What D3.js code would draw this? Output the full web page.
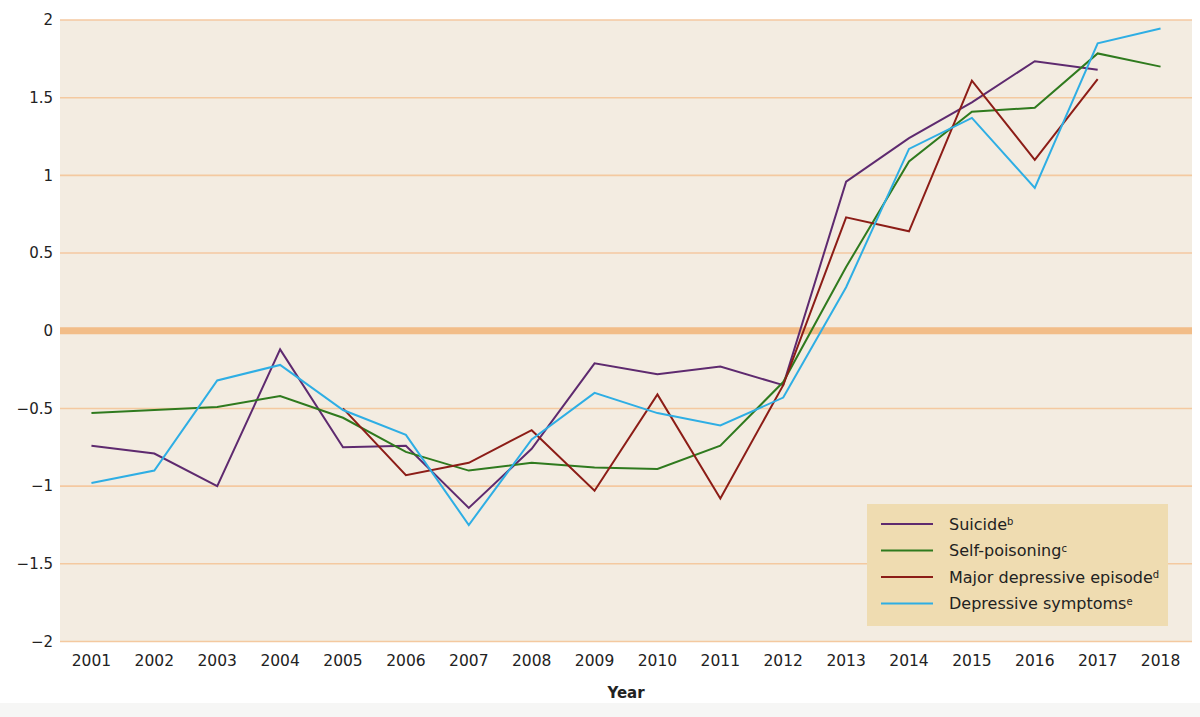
<!DOCTYPE html>
<html>
<head>
<meta charset="utf-8">
<script src="https://cdn.jsdelivr.net/npm/d3@7"></script>
<style>
  body { margin: 0; background: #fff; }
  text { font-family: "DejaVu Sans", "Lato", sans-serif; }
</style>
</head>
<body>
<svg width="1200" height="717"></svg>
<script>
var years = ["2001","2002","2003","2004","2005","2006","2007","2008","2009","2010","2011","2012","2013","2014","2015","2016","2017","2018"];
var yTicks = [-2, -1.5, -1, -0.5, 0, 0.5, 1, 1.5, 2];

// null = no data that year
var suicide = [-0.74, -0.79, -1.0, -0.12, -0.75, -0.74, -1.14, -0.76, -0.21, -0.28, -0.23, -0.35, 0.96, 1.24, 1.47, 1.735, 1.68, null];
var selfPoisoning = [-0.53, -0.51, -0.49, -0.42, -0.56, -0.78, -0.90, -0.85, -0.88, -0.89, -0.74, -0.33, 0.41, 1.09, 1.41, 1.435, 1.785, 1.70];
var majorDepressive = [null, null, null, null, -0.50, -0.93, -0.85, -0.64, -1.03, -0.41, -1.08, -0.35, 0.73, 0.64, 1.61, 1.10, 1.62, null];
var depressiveSymptoms = [-0.98, -0.90, -0.32, -0.22, -0.51, -0.67, -1.25, -0.70, -0.40, -0.53, -0.61, -0.43, 0.28, 1.17, 1.37, 0.92, 1.85, 1.945];

var seriesNames = ["Suicide", "Self-poisoning", "Major depressive episode", "Depressive symptoms"];
var seriesSup = ["b", "c", "d", "e"];
var seriesColors = ["#5e2a6f", "#2f7a1e", "#8c1d17", "#2eaee4"];
var seriesValues = [suicide, selfPoisoning, majorDepressive, depressiveSymptoms];

var svg = d3.select("svg"),
    margin = {top: 20, right: 8, bottom: 75, left: 60},
    width = +svg.attr("width") - margin.left - margin.right,
    height = +svg.attr("height") - margin.top - margin.bottom;

// light gray strip at the very bottom of the image
svg.append("rect").attr("x", 0).attr("y", 703).attr("width", 1200).attr("height", 14).attr("fill", "#f6f6f5");

var x = d3.scalePoint().domain(years).range([0, width]).padding(0.5),
    y = d3.scaleLinear().domain([-2, 2]).range([height - 0.5, 0]);

var g = svg.append("g")
    .attr("transform", "translate(" + margin.left + "," + margin.top + ")");

g.append("rect")
    .attr("width", width)
    .attr("height", height)
    .attr("fill", "#f3ece1");

// gridlines
g.selectAll(".grid")
  .data(yTicks)
  .enter().append("line")
    .attr("x1", 0).attr("x2", width)
    .attr("y1", function(d) { return y(d); })
    .attr("y2", function(d) { return y(d); })
    .attr("stroke", function(d) { return d === 0 ? "#f2bd88" : "#f4c9a0"; })
    .attr("stroke-width", function(d) { return d === 0 ? 7 : 1.6; });

// y axis labels
g.selectAll(".ylab")
  .data(yTicks)
  .enter().append("text")
    .attr("x", -7)
    .attr("y", function(d) { return y(d); })
    .attr("dy", "0.35em")
    .attr("text-anchor", "end")
    .attr("font-size", 15)
    .attr("fill", "#222")
    .text(function(d) { return d < 0 ? "\u2212" + Math.abs(d) : d; });

// x axis labels
g.selectAll(".xlab")
  .data(years)
  .enter().append("text")
    .attr("x", function(d) { return x(d); })
    .attr("y", height + 24)
    .attr("text-anchor", "middle")
    .attr("font-size", 15.5)
    .attr("fill", "#222")
    .text(function(d) { return d; });

g.append("text")
    .attr("x", width / 2)
    .attr("y", height + 56)
    .attr("text-anchor", "middle")
    .attr("font-size", 15)
    .attr("font-weight", "bold")
    .attr("fill", "#222")
    .text("Year");

var line = d3.line()
    .defined(function(d) { return d != null; })
    .x(function(d, i) { return x(years[i]); })
    .y(function(d) { return y(d); });

g.selectAll(".series")
  .data(seriesValues)
  .enter().append("path")
    .attr("fill", "none")
    .attr("stroke", function(d, i) { return seriesColors[i]; })
    .attr("stroke-width", 2)
    .attr("stroke-linejoin", "miter")
    .attr("d", line);

// legend
var legend = svg.append("g").attr("transform", "translate(867,504)");
legend.append("rect")
    .attr("width", 301)
    .attr("height", 122)
    .attr("fill", "#efdcb1");

var item = legend.selectAll(".item")
  .data(seriesNames)
  .enter().append("g")
    .attr("transform", function(d, i) { return "translate(0," + (20 + i * 26.5) + ")"; });

item.append("line")
    .attr("x1", 14).attr("x2", 66)
    .attr("stroke", function(d, i) { return seriesColors[i]; })
    .attr("stroke-width", 2);

var label = item.append("text")
    .attr("x", 82)
    .attr("dy", "0.35em")
    .attr("font-size", 16)
    .attr("fill", "#222")
    .text(function(d) { return d; });

label.append("tspan")
    .attr("dy", "-0.45em")
    .attr("font-size", 10)
    .text(function(d, i) { return seriesSup[i]; });
</script>
</body>
</html>
